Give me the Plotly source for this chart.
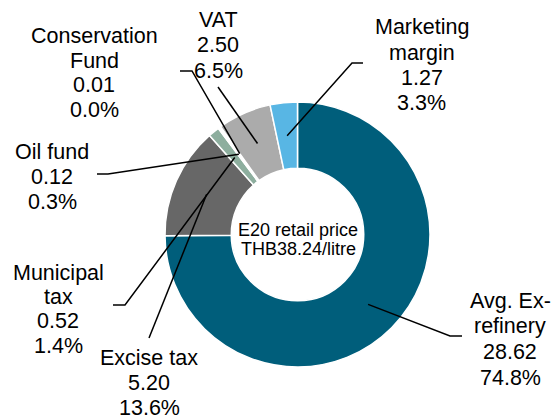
import math
import plotly.graph_objects as go

# ---- data ----
categories = ["Avg. Ex-refinery", "Excise tax", "Municipal tax", "Oil fund",
              "Conservation Fund", "VAT", "Marketing margin"]
values = [28.62, 5.20, 0.52, 0.12, 0.01, 2.50, 1.27]
label_names = [["Avg. Ex-", "refinery"], ["Excise tax"], ["Municipal", "tax"], ["Oil fund"],
               ["Conservation", "Fund"], ["VAT"], ["Marketing", "margin"]]
center_lines = ["E20 retail price", "THB38.24/litre"]

colors = ["#005E7B", "#676767", "#8DAE9E", "#FFFFFF", "#FFFFFF", "#ABABAB", "#58B6E4"]

# ---- layout (pixels) ----
W, H = 559, 419
CX, CY, R = 297.5, 234.5, 132.5
HOLE = 0.5
RM = R * (1 + HOLE) / 2  # leader line start radius (ring middle)

# label placement: (x centre, first line y, line spacing, elbow point or None, end point)
label_layout = [
    (510, 300.5, 25.7, (450, 336), (462, 336)),
    (149, 357.5, 25.0, None, (149, 338)),
    (58, 272.5, 24.4, (125, 305), (113, 305)),
    (52, 152.0, 25.0, (108, 174), (97, 174)),
    (94, 35.5, 25.0, (192, 71), (180, 71)),
    (218, 20.0, 25.5, None, (218, 87)),
    (422, 27.5, 25.2, (352, 63), (363, 63)),
]

def px(x):
    return x / W

def py(y):
    return 1 - y / H

fig = go.Figure(go.Pie(
    labels=categories, values=values, hole=HOLE, sort=False,
    direction="clockwise", rotation=0,
    marker=dict(colors=colors, line=dict(color="white", width=1.5)),
    textinfo="none", hoverinfo="label+value+percent", showlegend=False,
    domain=dict(x=[px(CX - R), px(CX + R)], y=[py(CY + R), py(CY - R)]),
))

total = sum(values)
cum = 0.0
shapes = []
annotations = []
font = dict(family="Liberation Sans, Arial, sans-serif", size=21.5, color="black")
for name, v, lines, lay in zip(categories, values, label_names, label_layout):
    mid = (cum + v / 2) / total
    cum += v
    theta = 2 * math.pi * mid
    sx = CX + RM * math.sin(theta)
    sy = CY - RM * math.cos(theta)
    lx, ly0, sp, elbow, end = lay
    pts = [(sx, sy)] + ([elbow] if elbow else []) + [end]
    path = "M " + " L ".join(f"{px(a):.5f},{py(b):.5f}" for a, b in pts)
    shapes.append(dict(type="path", xref="paper", yref="paper", path=path,
                       line=dict(color="black", width=1.5)))
    text_lines = lines + [f"{v:.2f}", f"{100 * v / total:.1f}%"]
    for i, t in enumerate(text_lines):
        annotations.append(dict(text=t, x=px(lx), y=py(ly0 + i * sp), xref="paper", yref="paper",
                                xanchor="center", yanchor="middle", showarrow=False, font=font))

for i, t in enumerate(center_lines):
    annotations.append(dict(text=t, x=px(298), y=py(229.5 + i * 19.5), xref="paper", yref="paper",
                            xanchor="center", yanchor="middle", showarrow=False,
                            font=dict(family="Liberation Sans, Arial, sans-serif", size=18, color="black")))

fig.update_layout(width=W, height=H, margin=dict(l=0, r=0, t=0, b=0),
                  paper_bgcolor="white", plot_bgcolor="white",
                  shapes=shapes, annotations=annotations)
fig.write_html("out.html", config={"displayModeBar": False},
               post_script="document.body.style.margin='0';document.body.style.overflow='hidden';")
